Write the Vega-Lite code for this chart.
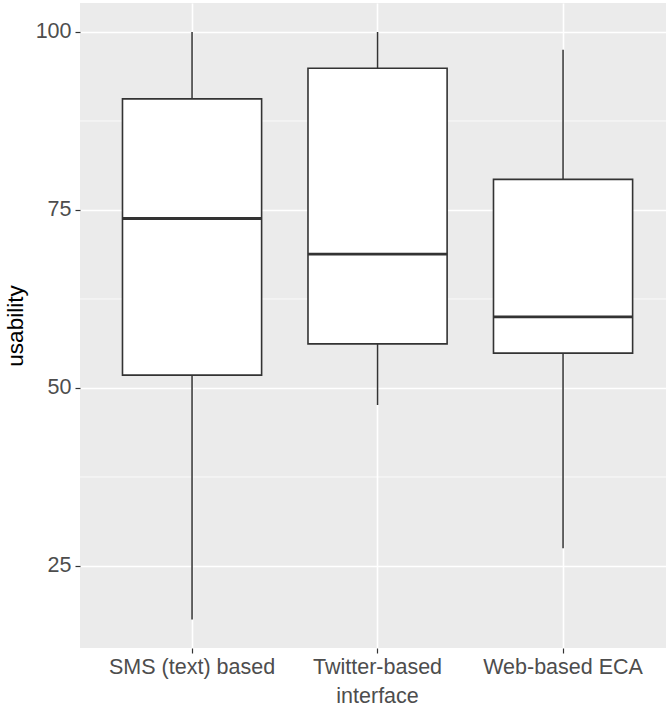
{
  "$schema": "https://vega.github.io/schema/vega-lite/v6.json",
  "width": 586,
  "height": 645,
  "autosize": {"type": "none"},
  "padding": {"left": 80, "top": 3, "right": 0, "bottom": 61},
  "background": "white",
  "config": {
    "view": {"fill": "#EBEBEB", "stroke": null},
    "font": "Liberation Sans",
    "axis": {
      "labelFont": "Liberation Sans",
      "titleFont": "Liberation Sans",
      "labelColor": "#4D4D4D",
      "labelFontSize": 21.5,
      "tickColor": "#333333",
      "tickSize": 5,
      "tickWidth": 1.2,
      "domain": false,
      "gridColor": "white",
      "gridWidth": 1.6,
      "titleColor": "black",
      "titleFontWeight": "normal",
      "titleFontSize": 22.5
    }
  },
  "datasets": {
    "boxes": [
      {"group": "SMS (text) based", "lower": 17.5, "q1": 51.8, "median": 73.8, "q3": 90.6, "upper": 100},
      {"group": "Twitter-based\ninterface", "lower": 47.6, "q1": 56.2, "median": 68.8, "q3": 94.9, "upper": 100},
      {"group": "Web-based ECA", "lower": 27.5, "q1": 54.9, "median": 60.0, "q3": 79.3, "upper": 97.5}
    ],
    "minor": [{"v": 37.5}, {"v": 62.5}, {"v": 87.5}]
  },
  "layer": [
    {
      "data": {"name": "minor"},
      "mark": {"type": "rule", "color": "white", "strokeWidth": 0.8},
      "encoding": {
        "y": {"field": "v", "type": "quantitative"}
      }
    },
    {
      "data": {"name": "boxes"},
      "encoding": {
        "x": {
          "field": "group",
          "type": "nominal",
          "sort": null,
          "scale": {"type": "band", "paddingInner": 0.25, "paddingOuter": 0.2045, "align": 0.56},
          "axis": {
            "title": null,
            "labelAngle": 0,
            "labelExpr": "split(datum.label, '\\n')",
            "labelPadding": 3,
            "labelLineHeight": 29,
            "grid": true,
            "bandPosition": 0.5
          }
        }
      },
      "layer": [
        {
          "mark": {"type": "rule", "color": "#333333", "strokeWidth": 1.5},
          "encoding": {
            "y": {"field": "lower", "type": "quantitative"},
            "y2": {"field": "upper"}
          }
        },
        {
          "mark": {"type": "bar", "fill": "white", "stroke": "#333333", "strokeWidth": 1.6, "width": {"band": 1}},
          "encoding": {
            "y": {"field": "q1", "type": "quantitative"},
            "y2": {"field": "q3"}
          }
        },
        {
          "mark": {"type": "tick", "color": "#333333", "thickness": 2.8, "size": 139, "opacity": 1},
          "encoding": {
            "y": {"field": "median", "type": "quantitative"}
          }
        }
      ]
    }
  ],
  "encoding": {
    "y": {
      "type": "quantitative",
      "scale": {"domain": [13.48, 104.07], "nice": false, "zero": false},
      "axis": {
        "title": "usability",
        "values": [25, 50, 75, 100],
        "labelPadding": 4,
        "titlePadding": 8
      }
    }
  }
}
